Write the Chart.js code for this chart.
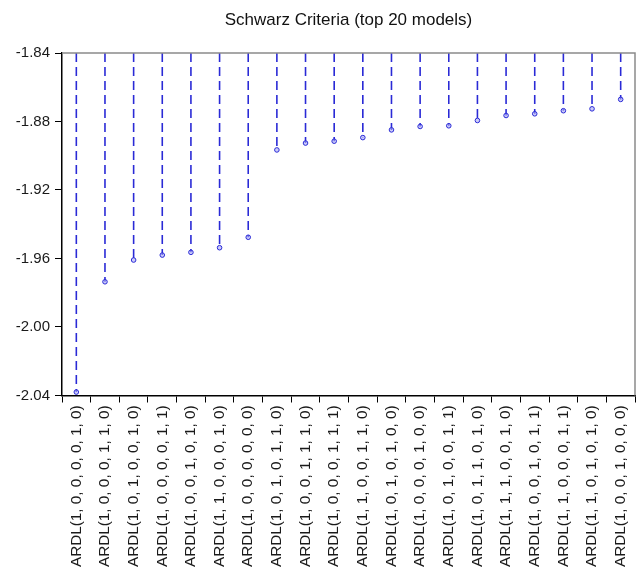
<!DOCTYPE html>
<html>
<head>
<meta charset="utf-8">
<script src="https://cdn.jsdelivr.net/npm/chart.js@4/dist/chart.umd.min.js"></script>
<style>
  html, body { margin: 0; padding: 0; background: #ffffff; }
  #wrap { width: 636px; height: 572px; }
</style>
</head>
<body>
<div id="wrap"><canvas id="c" width="636" height="572"></canvas></div>
<script>
// ARDL specifications, ranked by Schwarz criterion
const models = [
  'ARDL(1, 0, 0, 0, 0, 1, 0)', 'ARDL(1, 0, 0, 0, 1, 1, 0)', 'ARDL(1, 0, 1, 0, 0, 1, 0)',
  'ARDL(1, 0, 0, 0, 0, 1, 1)', 'ARDL(1, 0, 0, 1, 0, 1, 0)', 'ARDL(1, 1, 0, 0, 0, 1, 0)',
  'ARDL(1, 0, 0, 0, 0, 0, 0)', 'ARDL(1, 0, 1, 0, 1, 1, 0)', 'ARDL(1, 0, 0, 1, 1, 1, 0)',
  'ARDL(1, 0, 0, 0, 1, 1, 1)', 'ARDL(1, 1, 0, 0, 1, 1, 0)', 'ARDL(1, 0, 1, 0, 1, 0, 0)',
  'ARDL(1, 0, 0, 0, 1, 0, 0)', 'ARDL(1, 0, 1, 0, 0, 1, 1)', 'ARDL(1, 0, 1, 1, 0, 1, 0)',
  'ARDL(1, 1, 1, 0, 0, 1, 0)', 'ARDL(1, 0, 0, 1, 0, 1, 1)', 'ARDL(1, 1, 0, 0, 0, 1, 1)',
  'ARDL(1, 1, 0, 1, 0, 1, 0)', 'ARDL(1, 0, 0, 1, 0, 0, 0)'
];

// Schwarz criterion of each model
const schwarz = [
  -2.038, -1.9736, -1.9609, -1.958, -1.9564, -1.9537, -1.9476,
  -1.8966, -1.8926, -1.8915, -1.8894, -1.8849, -1.8829, -1.8825,
  -1.8794, -1.8765, -1.8755, -1.8737, -1.8726, -1.8671
];

// value-axis ticks
const yTicks = [-2.04, -2.00, -1.96, -1.92, -1.88, -1.84];

const yMin = yTicks[0];
const yMax = yTicks[yTicks.length - 1];

// each model is a dashed drop line from the top of the axis down to its value
const dropPoints = [];
models.forEach((m, i) => {
  dropPoints.push({ x: m, y: yMax });
  dropPoints.push({ x: m, y: schwarz[i] });
  dropPoints.push({ x: m, y: null });
});

const FONT = "'Liberation Sans', Arial, Helvetica, sans-serif";
const BLUE = '#2a2ad6';

// grey frame on the top and right edges of the plot area
const frame = {
  id: 'frame',
  afterDraw(chart) {
    const { ctx, chartArea: a } = chart;
    ctx.save();
    ctx.strokeStyle = '#8a8a8a';
    ctx.lineWidth = 1.5;
    ctx.beginPath();
    ctx.moveTo(a.left, a.top);
    ctx.lineTo(a.right, a.top);
    ctx.lineTo(a.right, a.bottom);
    ctx.stroke();
    ctx.restore();
  }
};

new Chart(document.getElementById('c'), {
  type: 'line',
  data: {
    labels: models,
    datasets: [{
      data: dropPoints,
      borderColor: BLUE,
      borderWidth: 1.6,
      borderDash: [9, 5],
      spanGaps: false,
      fill: false,
      tension: 0,
      pointRadius: ctx => (ctx.dataIndex % 3 === 1 ? 2.3 : 0),
      pointBorderWidth: 1,
      pointBorderColor: BLUE,
      pointBackgroundColor: 'rgba(170,170,245,0.6)',
      clip: 4
    }]
  },
  options: {
    responsive: false,
    animation: false,
    events: [],
    layout: { padding: { left: 0, right: 1, top: 0, bottom: 0 } },
    plugins: {
      legend: { display: false },
      tooltip: { enabled: false },
      title: {
        display: true,
        fullSize: false,
        text: 'Schwarz Criteria (top 20 models)',
        color: '#111111',
        font: { family: FONT, size: 17, weight: 'normal' },
        padding: { top: 10, bottom: 22.6 }
      }
    },
    scales: {
      x: {
        type: 'category',
        offset: true,
        grid: {
          offset: true,
          drawOnChartArea: false,
          drawTicks: true,
          tickLength: 7,
          color: '#000000',
          lineWidth: 1
        },
        border: { color: '#000000', width: 1.5 },
        ticks: {
          autoSkip: false,
          maxRotation: 90,
          minRotation: 90,
          padding: 3,
          color: '#1a1a1a',
          font: { family: FONT, size: 15.3 }
        },
        afterFit(scale) {
          scale.height = 176.5;
          scale.paddingLeft = 0;
          scale.paddingRight = 0;
        }
      },
      y: {
        min: yMin,
        max: yMax,
        afterBuildTicks(scale) { scale.ticks = yTicks.map(v => ({ value: v })); },
        grid: {
          drawOnChartArea: false,
          drawTicks: true,
          tickLength: 7,
          color: '#000000'
        },
        border: { color: '#000000', width: 1.5 },
        ticks: {
          padding: 5,
          color: '#1a1a1a',
          font: { family: FONT, size: 15 },
          callback: v => Number(v).toFixed(2)
        },
        afterFit(scale) { scale.width = 62; }
      }
    }
  },
  plugins: [frame]
});
</script>
</body>
</html>
